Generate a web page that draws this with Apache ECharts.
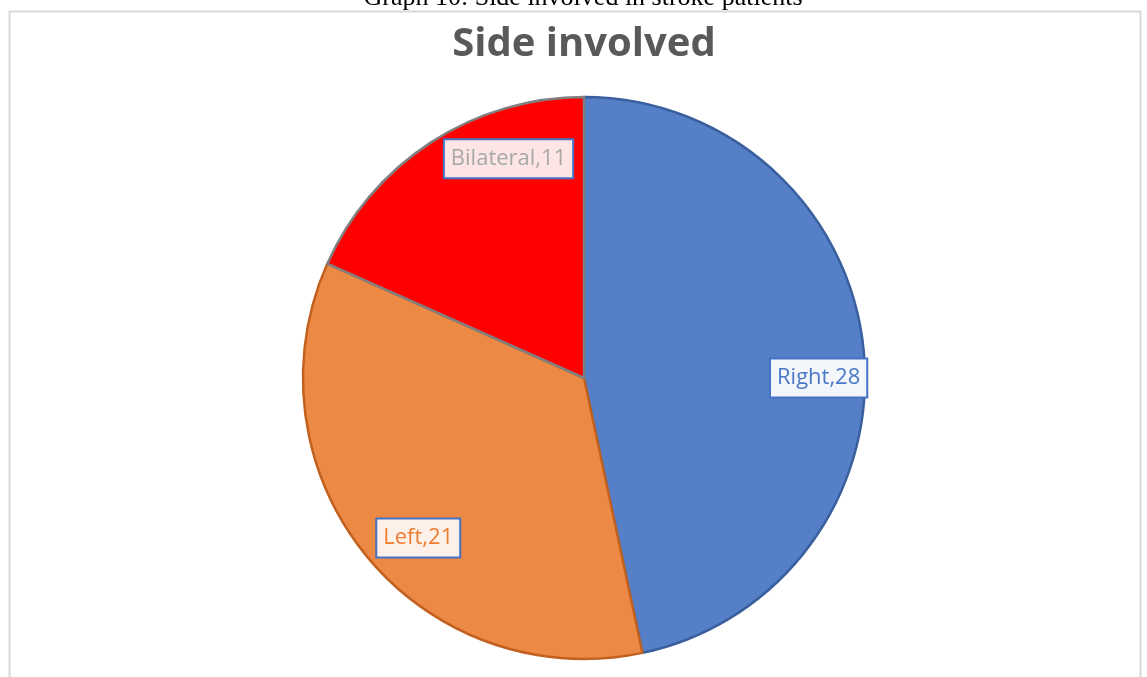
<!DOCTYPE html>
<html>
<head>
<meta charset="utf-8">
<script src="https://cdn.jsdelivr.net/npm/echarts@6/dist/echarts.min.js"></script>
<style>
  html, body { margin: 0; padding: 0; background: #fff; }
  #chart { width: 1147px; height: 677px; }
</style>
</head>
<body>
<div id="chart"></div>
<script>
// Side involved in stroke patients
const categories = ['Right', 'Left', 'Bilateral'];
const counts = [28, 21, 11];

// Slice and label styling
const sliceColors = ['#5580C8', '#EC8A45', '#FF0000'];
const sliceBorders = ['#3A5F9E', '#C2611F', '#808080'];
const labelTextColors = ['#4A78C6', '#ED7D31', '#A8A8A8'];
const labelBgColors = ['#F3F6FB', '#FDF0E8', '#FDE5E5'];
// Label placement relative to slice: radial fraction and angular nudge (deg)
const labelRadius = [0.835, 0.82, 0.825];
const labelAngleShift = [6, -5, 14];

const CX = 584, CY = 378, R = 281;

const total = counts.reduce((a, b) => a + b, 0);
const midAngles = [];
let acc = 0;
counts.forEach(v => {
  const span = v / total * 360;
  midAngles.push(acc + span / 2);
  acc += span;
});

const chart = echarts.init(document.getElementById('chart'), null, { renderer: 'canvas' });

chart.setOption({
  animation: false,
  backgroundColor: '#ffffff',
  graphic: [
    {
      type: 'rect',
      shape: { x: 9.5, y: 11.5, width: 1131, height: 700 },
      style: { fill: '#ffffff', stroke: '#D9D9D9', lineWidth: 2 },
      z: -10
    },
    {
      // document caption above the chart frame
      type: 'text',
      x: 583,
      y: -15,
      style: {
        text: 'Graph 10: Side involved in stroke patients',
        font: '26px "Liberation Serif", "Times New Roman", serif',
        fill: '#000000',
        align: 'center',
        verticalAlign: 'top'
      },
      z: 10
    },
    {
      // chart title
      type: 'text',
      x: 584,
      y: 25,
      style: {
        text: 'Side involved',
        font: 'bold 40px "Open Sans", "Noto Sans", sans-serif',
        fill: '#595959',
        align: 'center',
        verticalAlign: 'top'
      },
      z: 10
    }
  ],
  series: [{
    type: 'pie',
    center: [CX, CY],
    radius: R,
    startAngle: 90,
    clockwise: true,
    data: categories.map((name, i) => ({
      name: name,
      value: counts[i],
      itemStyle: {
        color: sliceColors[i],
        borderColor: sliceBorders[i],
        borderWidth: 2.5
      },
      label: {
        color: labelTextColors[i],
        backgroundColor: labelBgColors[i]
      }
    })),
    label: {
      show: true,
      position: 'inside',
      formatter: '{b},{c}',
      fontFamily: '"Open Sans", "Noto Sans", sans-serif',
      fontSize: 22,
      borderColor: '#4472C4',
      borderWidth: 2,
      padding: [8, 6, 7, 6]
    },
    labelLine: { show: false },
    labelLayout: function (params) {
      const i = params.dataIndex;
      const a = (midAngles[i] + labelAngleShift[i]) * Math.PI / 180;
      const r = R * labelRadius[i];
      return {
        x: CX + r * Math.sin(a),
        y: CY - r * Math.cos(a),
        align: 'center',
        verticalAlign: 'middle'
      };
    },
    emphasis: { disabled: true }
  }]
});
</script>
</body>
</html>
